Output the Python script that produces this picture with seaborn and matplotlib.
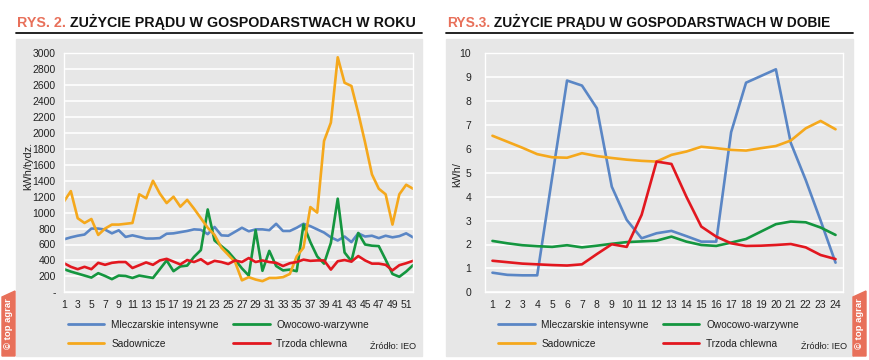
import pandas as pd
import matplotlib
matplotlib.use("Agg")
import matplotlib.pyplot as plt
import seaborn as sns
from matplotlib.patches import Rectangle, Polygon
from matplotlib.lines import Line2D
from matplotlib.text import Annotation

# ─────────────────────────────────────────────
# DANE
# ─────────────────────────────────────────────
tygodnie = list(range(1, 53))
mleczarskie_rok = [665, 690, 710, 725, 800, 800, 787, 740, 778, 695, 715, 695, 675,
                   675, 680, 735, 740, 755, 770, 790, 785, 730, 820, 715, 710, 760,
                   810, 766, 790, 790, 780, 860, 770, 770, 810, 860, 830, 790, 750,
                   690, 650, 700, 630, 740, 700, 710, 680, 710, 690, 705, 740, 690]
owocowo_rok = [290, 260, 235, 210, 185, 240, 205, 165, 210, 205, 180, 210, 195,
               180, 290, 400, 265, 325, 335, 445, 530, 1040, 650, 580, 510, 410,
               300, 210, 780, 270, 520, 330, 275, 285, 265, 850, 630, 450, 360,
               620, 1175, 500, 390, 745, 600, 585, 580, 410, 230, 195, 260, 340]
sadownicze_rok = [1140, 1270, 930, 870, 920, 720, 800, 850, 850, 860, 870, 1230, 1180,
                  1400, 1240, 1120, 1200, 1075, 1160, 1050, 930, 810, 720, 560, 470, 380,
                  150, 190, 160, 140, 180, 180, 190, 230, 450, 560, 1070, 1000, 1900,
                  2130, 2950, 2630, 2590, 2250, 1880, 1480, 1300, 1230, 850, 1230, 1350, 1300]
trzoda_rok = [365, 320, 290, 320, 290, 370, 345, 370, 380, 380, 305, 340, 375,
              345, 400, 420, 385, 350, 405, 380, 415, 355, 395, 380, 355, 400,
              380, 430, 380, 400, 380, 370, 330, 365, 380, 410, 395, 400, 400,
              285, 390, 405, 385, 455, 400, 360, 360, 345, 275, 340, 365, 395]

godziny = list(range(1, 25))
mleczarskie_doba = [0.82, 0.73, 0.71, 0.71, 4.8, 8.86, 8.65, 7.7, 4.42, 3.03, 2.26, 2.47,
                    2.57, 2.35, 2.12, 2.12, 6.7, 8.77, 9.05, 9.33, 6.25, 4.7, 3.0, 1.24]
owocowo_doba = [2.15, 2.05, 1.97, 1.93, 1.9, 1.97, 1.88, 1.95, 2.03, 2.1, 2.13, 2.16,
                2.33, 2.12, 1.98, 1.94, 2.08, 2.23, 2.54, 2.85, 2.96, 2.93, 2.71, 2.4]
sadownicze_doba = [6.55, 6.3, 6.05, 5.78, 5.65, 5.63, 5.82, 5.7, 5.62, 5.55, 5.5, 5.47,
                   5.75, 5.89, 6.09, 6.03, 5.96, 5.93, 6.03, 6.12, 6.35, 6.86, 7.17, 6.82]
trzoda_doba = [1.32, 1.26, 1.2, 1.17, 1.14, 1.12, 1.17, 1.6, 2.01, 1.9, 3.24, 5.47,
               5.37, 4.0, 2.75, 2.33, 2.05, 1.94, 1.95, 1.98, 2.02, 1.88, 1.56, 1.39]

SERIE = ["Mleczarskie intensywne", "Owocowo-warzywne", "Sadownicze", "Trzoda chlewna"]
KOLORY = dict(zip(SERIE, ["#5a86c5", "#14963f", "#f5a81c", "#e2171f"]))

df_rok = pd.DataFrame({
    "x": tygodnie * 4,
    "y": mleczarskie_rok + owocowo_rok + sadownicze_rok + trzoda_rok,
    "typ": [s for s in SERIE for _ in tygodnie],
})
df_doba = pd.DataFrame({
    "x": godziny * 4,
    "y": mleczarskie_doba + owocowo_doba + sadownicze_doba + trzoda_doba,
    "typ": [s for s in SERIE for _ in godziny],
})

# ─────────────────────────────────────────────
# STYL
# ─────────────────────────────────────────────
sns.set_style("white")
plt.rcParams["font.family"] = ["Liberation Sans", "DejaVu Sans"]

W, H = 870, 360
TLO = "#e7e7e7"
LOSOS = "#e8705a"
TEKST = "#222222"


def fx(px):
    return px / W


def fy(py):
    return 1 - py / H


fig = plt.figure(figsize=(W / 100, H / 100), dpi=100)


def panel(x0, x1, ax_l, ax_r, rys, tytul, tsize, df, xlim, xticks, yticks, ylabels,
          ylab, ylab_x, ylab_y, ypad, tab_x, leg_x1, leg_x2, zrodlo_x):
    # szare tło panelu
    fig.patches.append(Rectangle((fx(x0), fy(356)), (x1 - x0) / W, (356 - 39) / H,
                                 transform=fig.transFigure, color=TLO, zorder=-5))
    # tytuł: czerwony numer + czarny tekst
    t1 = fig.text(fx(x0 + 1), fy(27), rys, color=LOSOS, fontsize=tsize,
                  fontweight="bold", va="baseline")
    fig.add_artist(Annotation(" " + tytul, xy=(1, 0), xycoords=t1, va="bottom",
                              ha="left", fontsize=tsize, fontweight="bold",
                              color="#111111", annotation_clip=False))
    fig.lines.append(Line2D([fx(x0), fx(x1)], [fy(33.3), fy(33.3)],
                            transform=fig.transFigure, color="#111111", lw=1.3))

    ax = fig.add_axes([fx(ax_l), fy(292.3), (ax_r - ax_l) / W, (292.3 - 53.3) / H])
    ax.set_facecolor(TLO)
    sns.lineplot(data=df, x="x", y="y", hue="typ", hue_order=SERIE, palette=KOLORY,
                 linewidth=1.9, legend=False, ax=ax, estimator=None)
    ax.set_xlim(*xlim)
    ax.set_ylim(yticks[0], yticks[-1])
    ax.set_xticks(xticks)
    ax.set_xticklabels([str(v) for v in xticks], fontsize=7.5, color=TEKST)
    ax.set_yticks(yticks)
    ax.set_yticklabels(ylabels, fontsize=7.5, color=TEKST)
    ax.tick_params(length=0, axis="x", pad=5.5)
    ax.tick_params(length=0, axis="y", pad=ypad)
    ax.grid(axis="y", color="white", lw=1.2)
    ax.set_axisbelow(True)
    for s in ax.spines.values():
        s.set_color("white")
        s.set_linewidth(1.0)
    ax.set_xlabel("")
    ax.set_ylabel("")
    fig.text(fx(ylab_x), fy(ylab_y), ylab, rotation=90, fontsize=7.8,
             ha="center", va="center", color=TEKST)

    # legenda w dwóch kolumnach
    uchwyty = [Line2D([0], [0], color=KOLORY[s], lw=2) for s in SERIE]
    for kol, lx in zip([(0, 2), (1, 3)], [leg_x1, leg_x2]):
        leg = fig.legend([uchwyty[i] for i in kol], [SERIE[i] for i in kol],
                         loc="upper left", bbox_to_anchor=(fx(lx), fy(320)),
                         frameon=False, fontsize=7.3, handlelength=3.6,
                         handletextpad=0.65, labelspacing=0.85, borderpad=0,
                         borderaxespad=0)
        for t in leg.get_texts():
            t.set_color(TEKST)
    fig.text(fx(zrodlo_x), fy(349), "Źródło: IEO", fontsize=6.5, color=TEKST,
             va="baseline")

    # zakładka „top agrar”
    fig.patches.append(Polygon([(fx(tab_x), fy(356)), (fx(tab_x + 13), fy(356)),
                                (fx(tab_x + 13), fy(291)), (fx(tab_x), fy(297))],
                               closed=True, transform=fig.transFigure,
                               color=LOSOS, zorder=-4))
    fig.text(fx(tab_x + 6.8), fy(324), "© top agrar", rotation=90, color="white",
             fontsize=6.8, fontweight="bold", ha="center", va="center")
    return ax


panel(16, 422, 64, 413, "RYS. 2.", "ZUŻYCIE PRĄDU W GOSPODARSTWACH W ROKU", 10.3,
      df_rok, (1, 52), list(range(1, 52, 2)), list(range(0, 3001, 200)),
      ["-"] + [str(v) for v in range(200, 3001, 200)],
      "kWh/tydz.", 28, 166, 6, 2, 68, 233, 370)

panel(446, 853, 485, 843, "RYS.3.", "ZUŻYCIE PRĄDU W GOSPODARSTWACH W DOBIE", 9.9,
      df_doba, (0.5, 24.5), godziny, list(range(0, 11)),
      [str(v) for v in range(0, 11)],
      "kWh/", 457, 175, 10, 853, 498, 663, 801)

fig.savefig("out.png", dpi=100)
